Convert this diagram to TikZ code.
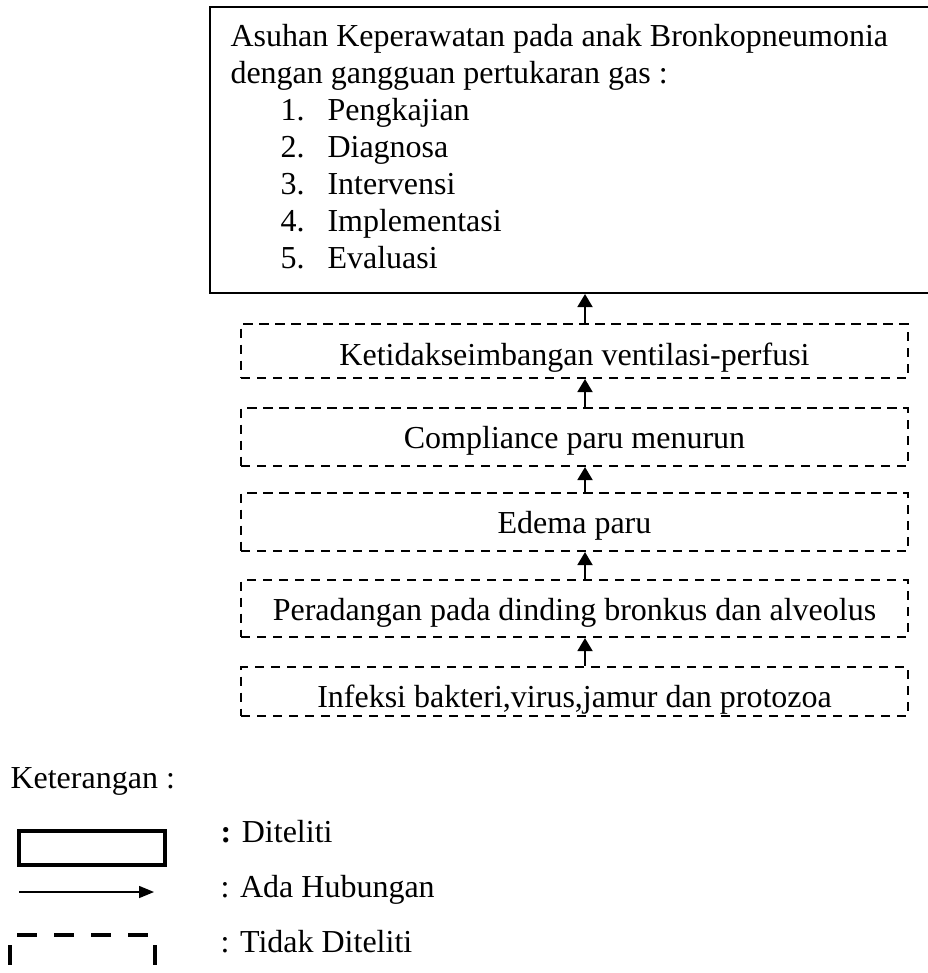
\documentclass[tikz,border=0pt]{standalone}
\usepackage{fontspec}
\setmainfont{Liberation Serif}
\usetikzlibrary{arrows.meta, positioning}

\tikzset{
  diteliti/.style={draw, line width=0.75pt, inner sep=0pt},
  tidakditeliti/.style={draw, line width=0.75pt, dash pattern=on 3.4pt off 2.6pt, inner sep=0pt, minimum width=250pt},
  teks/.style={anchor=base, inner sep=0pt},
  teksleft/.style={anchor=base west, inner sep=0pt},
  hubungan/.style={-{Triangle[length=4.9pt,width=5.6pt]}, line width=0.8pt},
}

\begin{document}
\begin{tikzpicture}[x=0.375pt, y=-0.375pt, font=\fontsize{12pt}{14pt}\selectfont]
    \useasboundingbox (0,0) rectangle (927,973);
    \node[diteliti, minimum width=273.75pt, minimum height=107.25pt] (asuhan) at (575,150) {};
    \node[teksleft] (judul1) at (230,47) {Asuhan Keperawatan pada anak Bronkopneumonia};
    \node[teksleft] (judul2) at (230,84) {dengan gangguan pertukaran gas :};
    \foreach \n/\langkah in {1/Pengkajian, 2/Diagnosa, 3/Intervensi, 4/Implementasi, 5/Evaluasi} {
        \node[teksleft] (no\n) at (280,{84+37*\n}) {\n.};
        \node[teksleft] (langkah\n) at (327,{84+37*\n}) {\langkah};
    }

    \node[tidakditeliti, minimum height=20.25pt] (ketidak) at (574.5,351) {};
    \node[tidakditeliti, minimum height=21.75pt] (compliance) at (574.5,437) {};
    \node[tidakditeliti, minimum height=21.75pt] (edema) at (574.5,522) {};
    \node[tidakditeliti, minimum height=21.4pt] (peradangan) at (574.5,608.5) {};
    \node[tidakditeliti, minimum height=18.4pt] (infeksi) at (574.5,691.5) {};
    \begin{scope}
        \clip (241,324) rectangle (908,376);
        \node[teks] (tketidak) at (574.5,365) {Ketidakseimbangan ventilasi-perfusi};
    \end{scope}
    \node[teks] (tcompliance) at (574.5,448) {Compliance paru menurun};
    \node[teks] (tedema) at (574.5,533) {Edema paru};
    \node[teks] (tperadangan) at (574.5,620) {Peradangan pada dinding bronkus dan alveolus};
    \begin{scope}
        \clip (241,668) rectangle (908,714);
        \node[teks] (tinfeksi) at (574.5,707) {Infeksi bakteri,virus,jamur dan protozoa};
    \end{scope}

    \coordinate (sumbu) at (585,0);
    \draw[hubungan] (sumbu |- ketidak.north) -- (sumbu |- asuhan.south);
    \draw[hubungan] (sumbu |- compliance.north) -- (sumbu |- ketidak.south);
    \draw[hubungan] (sumbu |- edema.north) -- (sumbu |- compliance.south);
    \draw[hubungan] (sumbu |- peradangan.north) -- (sumbu |- edema.south);
    \draw[hubungan] (sumbu |- infeksi.north) -- (sumbu |- peradangan.south);

    \node[teksleft] (keterangan) at (10,788) {Keterangan :};
    \node[draw, line width=1.5pt, minimum width=54.75pt, minimum height=12.75pt, inner sep=0pt] (contohdit) at (92,848) {};
    \node[teksleft] (ketdit) at (220,842) {\textbf{:} Diteliti};
    \coordinate (panahawal) at (19,892);
    \coordinate (panahakhir) at (154,892);
    \draw[line width=0.5pt, -{Triangle[length=5.6pt,width=4.5pt]}] (panahawal) -- (panahakhir);
    \node[teksleft] (kethub) at (220,897) {: Ada Hubungan};
    \draw[line width=1.5pt, dash pattern=on 7.5pt off 6.4pt, dash phase=10.1pt] (10,975) -- (10,935) -- (155,935) -- (155,975) -- cycle;
    \node[teksleft] (kettidak) at (220,952) {: Tidak Diteliti};
\end{tikzpicture}
\end{document}
